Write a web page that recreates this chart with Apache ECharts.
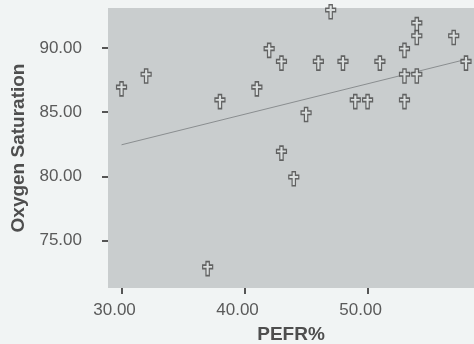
<!DOCTYPE html>
<html>
<head>
<meta charset="utf-8">
<script src="https://cdn.jsdelivr.net/npm/echarts@6/dist/echarts.min.js"></script>
<style>
  html, body { margin: 0; padding: 0; background: #f1f4f4; }
  #chart { width: 474px; height: 344px; }
</style>
</head>
<body>
<div id="chart"></div>
<script>
// PEFR% vs oxygen saturation
const pefr = [30, 32, 37, 38, 41, 42, 43, 43, 44, 45, 46, 47, 48, 49, 50, 51, 53, 53, 53, 54, 54, 54, 57, 58];
const oxygen = [87, 88, 73, 86, 87, 90, 89, 82, 80, 85, 89, 93, 89, 86, 86, 89, 90, 88, 86, 92, 91, 88, 91, 89];

// fit line ends as drawn in the picture
const fitX = [30, 58];
const fitY = [82.45, 89.1];

const xTicks = [30, 40, 50];
const yTicks = [75, 80, 85, 90];

const crossPath = 'path://M4,0H8V4H12V8H8V16H4V8H0V4H4Z';

var chart = echarts.init(document.getElementById('chart'), null, { renderer: 'canvas' });

var option = {
    backgroundColor: '#f1f4f4',
    animation: false,
    grid: {
        left: 108,
        right: 0,
        top: 8,
        bottom: 56,
        outerBoundsMode: 'none',
        show: true,
        backgroundColor: '#c9cdce',
        borderWidth: 0
    },
    xAxis: {
        type: 'value',
        min: 28.9,
        max: 58.65,
        name: 'PEFR%',
        nameLocation: 'middle',
        nameGap: 37,
        nameTextStyle: { fontFamily: 'Liberation Sans', fontSize: 19, fontWeight: 'bold', color: '#4e4e4e' },
        axisLine: { show: false },
        splitLine: { show: false },
        axisTick: { show: true, length: 6, customValues: xTicks, lineStyle: { color: '#555', width: 2 } },
        axisLabel: {
            customValues: xTicks,
            margin: 14,
            padding: [0, 14, 0, 0],
            fontFamily: 'Liberation Sans',
            fontSize: 17,
            color: '#5a5a5a',
            formatter: v => v.toFixed(2)
        }
    },
    yAxis: {
        type: 'value',
        min: 71.3,
        max: 93.1,
        name: 'Oxygen Saturation',
        nameLocation: 'middle',
        nameGap: 77,
        nameTextStyle: { fontFamily: 'Liberation Sans', fontSize: 19, fontWeight: 'bold', color: '#4e4e4e' },
        axisLine: { show: false },
        splitLine: { show: false },
        axisTick: { show: true, length: 6, customValues: yTicks, lineStyle: { color: '#555', width: 2 } },
        axisLabel: {
            customValues: yTicks,
            margin: 26,
            fontFamily: 'Liberation Sans',
            fontSize: 17,
            color: '#5a5a5a',
            formatter: v => v.toFixed(2)
        }
    },
    series: [
        {
            type: 'line',
            data: fitX.map((x, i) => [x, fitY[i]]),
            symbol: 'none',
            lineStyle: { color: '#8a8e90', width: 1 },
            z: 1
        },
        {
            type: 'scatter',
            data: pefr.map((x, i) => [x, oxygen[i]]),
            symbol: crossPath,
            symbolSize: [10, 14],
            symbolOffset: [0, 2.5],
            itemStyle: { color: '#dfe2e2', borderColor: '#454545', borderWidth: 1.4 },
            z: 2
        }
    ]
};

chart.setOption(option);
window.addEventListener('resize', chart.resize);
</script>
</body>
</html>
